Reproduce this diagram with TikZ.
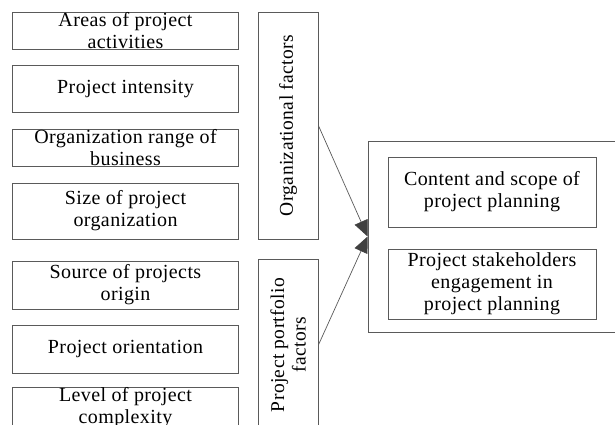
\documentclass[tikz,border=0pt]{standalone}
\usepackage{fontspec}
\setmainfont{Liberation Serif}[LetterSpace=2]
\usetikzlibrary{arrows.meta}
\definecolor{bord}{RGB}{90,90,90}
\definecolor{tipc}{RGB}{64,64,64}
\begin{document}
\begin{tikzpicture}[x=1pt,y=-1pt,
  box/.style={draw=bord,line width=0.8pt,inner sep=0pt,align=center,
    font=\fontsize{20}{22}\selectfont,text=black},
  lbox/.style={box,minimum width=226pt},
  vbox/.style={box,minimum height=60pt,rotate=90,font=\fontsize{19.5}{21.5}\selectfont},
  rbox/.style={box,minimum width=208pt,minimum height=70pt},
  arr/.style={draw=bord,line width=0.7pt,-{Triangle[length=16pt,width=14pt,fill=tipc,color=tipc]}}]
\clip (0,0) rectangle (615,424);
\fill[white] (0,0) rectangle (615,424);
\node[lbox,minimum height=37pt] (b1) at (125.5,30.5) {Areas of project\\activities};
\node[lbox,minimum height=47pt] (b2) at (125.5,89) {Project intensity};
\node[lbox,minimum height=37pt] (b3) at (125.5,148) {Organization range of\\business};
\node[lbox,minimum height=56pt] (b4) at (125.5,211) {Size of project\\organization};
\node[lbox,minimum height=48pt] (b5) at (125.5,285) {Source of projects\\origin};
\node[lbox,minimum height=48pt] (b6) at (125.5,349) {Project orientation};
\node[lbox,minimum height=37pt] (b7) at (125.5,407.5) {Level of project\\complexity};
\node[vbox,minimum width=227pt] (v1) at (288,125.5) {Organizational factors};
\node[vbox,minimum width=172pt] (v2) at (288,345) {Project portfolio\\factors};
\node[draw=bord,line width=0.8pt,minimum width=262pt,minimum height=191pt,inner sep=0pt] (big) at (499,236.5) {};
\node[rbox] (ra) at (492,192) {Content and scope of\\project planning};
\node[rbox] (rb) at (492,284) {Project stakeholders\\engagement in\\project planning};
\draw[arr] (v1.south) -- (big.west);
\draw[arr] (v2.south) -- (big.west);
\end{tikzpicture}
\end{document}
